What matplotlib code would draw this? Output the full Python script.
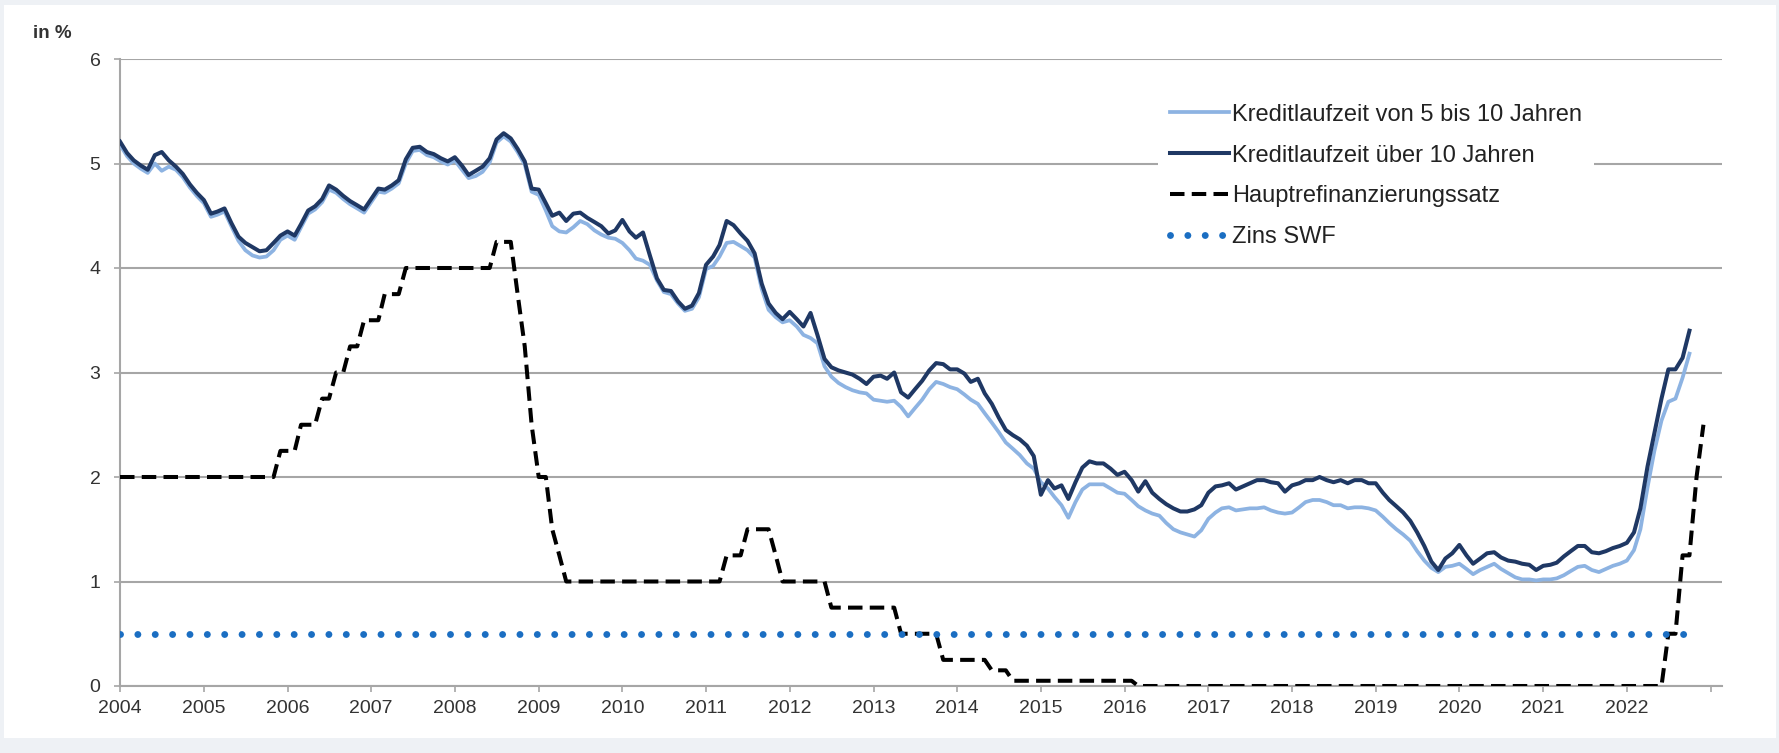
import numpy as np
import pandas as pd
import matplotlib
matplotlib.use("Agg")
import matplotlib.pyplot as plt
from matplotlib.patches import Rectangle

plt.rcParams['font.family'] = ['Liberation Sans', 'DejaVu Sans']

# monthly values, Jan 2004 .. Oct 2022
laufzeit_5_10 = [
    5.18, 5.07, 5.00, 4.95, 4.91, 5.00, 4.93, 4.97, 4.94, 4.87, 4.77, 4.69,
    4.62, 4.49, 4.51, 4.54, 4.40, 4.26, 4.17, 4.12, 4.10, 4.11, 4.17, 4.27,
    4.31, 4.27, 4.39, 4.52, 4.56, 4.63, 4.75, 4.72, 4.66, 4.61, 4.57, 4.53,
    4.63, 4.73, 4.72, 4.76, 4.81, 5.00, 5.12, 5.13, 5.08, 5.06, 5.02, 4.99,
    5.03, 4.94, 4.86, 4.88, 4.92, 5.01, 5.20, 5.26, 5.21, 5.11, 4.99, 4.73,
    4.70, 4.55, 4.40, 4.35, 4.34, 4.39, 4.45, 4.42, 4.36, 4.32, 4.29, 4.28,
    4.24, 4.17, 4.09, 4.07, 4.03, 3.88, 3.77, 3.75, 3.66, 3.59, 3.61, 3.72,
    3.99, 4.02, 4.11, 4.24, 4.25, 4.21, 4.17, 4.10, 3.80, 3.60, 3.53, 3.48,
    3.50, 3.44, 3.36, 3.33, 3.28, 3.06, 2.96, 2.90, 2.86, 2.83, 2.81, 2.80,
    2.74, 2.73, 2.72, 2.73, 2.67, 2.58, 2.66, 2.74, 2.84, 2.91, 2.89, 2.86,
    2.84, 2.79, 2.74, 2.70, 2.61, 2.52, 2.43, 2.33, 2.27, 2.21, 2.13, 2.08,
    1.95, 1.89, 1.81, 1.73, 1.61, 1.76, 1.88, 1.93, 1.93, 1.93, 1.89, 1.85,
    1.84, 1.78, 1.72, 1.68, 1.65, 1.63, 1.56, 1.50, 1.47, 1.45, 1.43, 1.49,
    1.60, 1.66, 1.70, 1.71, 1.68, 1.69, 1.70, 1.70, 1.71, 1.68, 1.66, 1.65,
    1.66, 1.71, 1.76, 1.78, 1.78, 1.76, 1.73, 1.73, 1.70, 1.71, 1.71, 1.70,
    1.68, 1.62, 1.56, 1.50, 1.45, 1.39, 1.29, 1.20, 1.13, 1.09, 1.14, 1.15,
    1.17, 1.12, 1.07, 1.11, 1.14, 1.17, 1.12, 1.08, 1.04, 1.02, 1.02, 1.01,
    1.02, 1.02, 1.03, 1.06, 1.10, 1.14, 1.15, 1.11, 1.09, 1.12, 1.15, 1.17,
    1.20, 1.30, 1.50, 1.90, 2.25, 2.54, 2.72, 2.75, 2.95, 3.18,
]
laufzeit_ueber_10 = [
    5.21, 5.10, 5.03, 4.98, 4.94, 5.08, 5.11, 5.03, 4.97, 4.90, 4.80, 4.72,
    4.65, 4.52, 4.54, 4.57, 4.43, 4.30, 4.24, 4.20, 4.16, 4.17, 4.24, 4.31,
    4.35, 4.31, 4.42, 4.55, 4.59, 4.66, 4.79, 4.75, 4.69, 4.64, 4.60, 4.56,
    4.66, 4.76, 4.75, 4.79, 4.84, 5.04, 5.15, 5.16, 5.11, 5.09, 5.05, 5.02,
    5.06, 4.98, 4.89, 4.93, 4.97, 5.05, 5.23, 5.29, 5.24, 5.14, 5.02, 4.76,
    4.75, 4.62, 4.50, 4.53, 4.45, 4.52, 4.53, 4.48, 4.44, 4.40, 4.33, 4.36,
    4.46, 4.35, 4.29, 4.34, 4.12, 3.90, 3.79, 3.78, 3.68, 3.61, 3.64, 3.76,
    4.03, 4.11, 4.22, 4.45, 4.41, 4.33, 4.26, 4.14, 3.85, 3.66, 3.57, 3.51,
    3.58, 3.51, 3.44, 3.57, 3.36, 3.13, 3.05, 3.02, 3.00, 2.98, 2.94, 2.89,
    2.96, 2.97, 2.94, 3.00, 2.81, 2.76, 2.84, 2.92, 3.02, 3.09, 3.08, 3.03,
    3.03, 2.99, 2.91, 2.94, 2.80, 2.70, 2.57, 2.45, 2.40, 2.36, 2.30, 2.20,
    1.83, 1.97, 1.89, 1.92, 1.79, 1.95, 2.09, 2.15, 2.13, 2.13, 2.08, 2.02,
    2.05, 1.97, 1.86, 1.96, 1.85, 1.79, 1.74, 1.70, 1.67, 1.67, 1.69, 1.73,
    1.85, 1.91, 1.92, 1.94, 1.88, 1.91, 1.94, 1.97, 1.97, 1.95, 1.94, 1.86,
    1.92, 1.94, 1.97, 1.97, 2.00, 1.97, 1.95, 1.97, 1.94, 1.97, 1.97, 1.94,
    1.94, 1.85, 1.78, 1.72, 1.66, 1.58, 1.47, 1.34, 1.19, 1.11, 1.22, 1.27,
    1.35, 1.25, 1.17, 1.22, 1.27, 1.28, 1.23, 1.20, 1.19, 1.17, 1.16, 1.11,
    1.15, 1.16, 1.18, 1.24, 1.29, 1.34, 1.34, 1.28, 1.27, 1.29, 1.32, 1.34,
    1.37, 1.47, 1.70, 2.10, 2.42, 2.75, 3.03, 3.03, 3.14, 3.40,
]

# Hauptrefinanzierungssatz: rate and number of months it was in force (Jan 2004 .. Dec 2022)
hrs_satz = [2.00, 2.25, 2.50, 2.75, 3.00, 3.25, 3.50, 3.75, 4.00, 4.25, 3.75, 3.25,
            2.50, 2.00, 1.50, 1.25, 1.00, 1.25, 1.50, 1.25, 1.00, 0.75, 0.50, 0.25,
            0.15, 0.05, 0.00, 0.50, 1.25, 2.00, 2.50]
hrs_monate = [23, 3, 3, 2, 2, 2, 3, 3, 13, 3, 1, 1,
              1, 2, 1, 1, 23, 3, 4, 1, 7, 10, 6, 7,
              3, 18, 76, 2, 2, 1, 1]

zins_swf = 0.5

jahre = list(range(2004, 2024))
jahr_labels = [str(j) for j in range(2004, 2023)] + ['']

monate = pd.date_range('2004-01-01', periods=len(laufzeit_ueber_10), freq='MS')
hrs = np.repeat(hrs_satz, hrs_monate)
monate_hrs = pd.date_range('2004-01-01', periods=len(hrs), freq='MS')

W, H = 1779, 753
fig = plt.figure(figsize=(W / 100, H / 100), dpi=100, facecolor='#eef1f5')
fig.patches.append(Rectangle((4 / W, 15 / H), 1772 / W, 733 / H, transform=fig.transFigure,
                             facecolor='white', edgecolor='none', zorder=-5))

ax = fig.add_axes([120 / W, 1 - 686 / H, (1722 - 120) / W, (686 - 59) / H])
ax.set_facecolor('none')

ax.plot(monate, laufzeit_5_10, color='#8db3e2', lw=2.7, label='Kreditlaufzeit von 5 bis 10 Jahren', zorder=3)
ax.plot(monate, laufzeit_ueber_10, color='#1f3864', lw=2.9, label='Kreditlaufzeit über 10 Jahren', zorder=4)
ax.plot(monate_hrs, hrs, color='black', lw=2.9, linestyle=(0, (3.6, 1.8)),
        label='Hauptrefinanzierungssatz', zorder=5)
ax.plot([monate[0], monate[-1]], [zins_swf, zins_swf], color='#1b6ec2', lw=5,
        linestyle=(0, (0.001, 2.5)), dash_capstyle='round', label='Zins SWF', zorder=6)

ax.set_ylim(0, 6)
ax.set_yticks(range(0, 7))
ax.set_xlim(pd.Timestamp('2004-01-01'), pd.Timestamp('2023-02-20'))
ax.set_xticks([pd.Timestamp(f'{j}-01-01') for j in jahre])
ax.set_xticklabels(jahr_labels)

ax.grid(axis='y', color='#a6a6a6', lw=1.5)
ax.set_axisbelow(True)
for s in ['top', 'right']:
    ax.spines[s].set_visible(False)
for s in ['left', 'bottom']:
    ax.spines[s].set_color('#a6a6a6')
    ax.spines[s].set_linewidth(1.5)
ax.tick_params(axis='both', colors='#a6a6a6', labelcolor='#333333', labelsize=14,
               length=4, width=1.2, direction='out')
ax.tick_params(axis='y', pad=10)
ax.tick_params(axis='x', pad=6)

fig.text(33 / W, 1 - 33 / H, 'in %', fontsize=13.5, fontweight='bold', color='#333333',
         ha='left', va='center')

leg = ax.legend(loc='upper left', bbox_to_anchor=(1146 / W, 1 - 80 / H), bbox_transform=fig.transFigure,
                fontsize=17, frameon=True, fancybox=False, edgecolor='none', facecolor='white',
                framealpha=1, handlelength=2.5, handletextpad=0.15, labelspacing=0.8,
                borderpad=0.5)
for t in leg.get_texts():
    t.set_color('#222222')

fig.savefig('out.png', dpi=100, facecolor=fig.get_facecolor())
